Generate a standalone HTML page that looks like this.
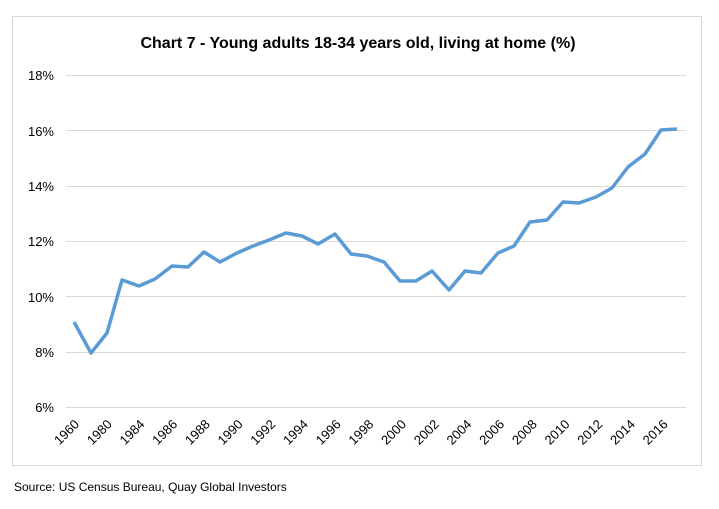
<!DOCTYPE html>
<html><head><meta charset="utf-8"><style>
body{margin:0;background:#fff;}
svg{display:block;font-family:"Liberation Sans",Arial,sans-serif;}
</style></head><body>
<svg width="719" height="509" viewBox="0 0 719 509" xmlns="http://www.w3.org/2000/svg">
<rect x="12.5" y="16.5" width="689" height="449" fill="#fff" stroke="#d9d9d9" stroke-width="1"/>
<text x="358" y="48" text-anchor="middle" font-size="16" font-weight="bold" fill="#000">Chart 7 - Young adults 18-34 years old, living at home (%)</text>
<g stroke="#d9d9d9" stroke-width="1">
<line x1="66" x2="686" y1="75.5" y2="75.5"/>
<line x1="66" x2="686" y1="130.5" y2="130.5"/>
<line x1="66" x2="686" y1="186.5" y2="186.5"/>
<line x1="66" x2="686" y1="241.5" y2="241.5"/>
<line x1="66" x2="686" y1="296.5" y2="296.5"/>
<line x1="66" x2="686" y1="352.5" y2="352.5"/>
<line x1="66" x2="686" y1="407.5" y2="407.5"/>
</g>
<g font-size="13" fill="#000" text-anchor="end">
<text x="54" y="80">18%</text>
<text x="54" y="136">16%</text>
<text x="54" y="191">14%</text>
<text x="54" y="246">12%</text>
<text x="54" y="302">10%</text>
<text x="54" y="357">8%</text>
<text x="54" y="412">6%</text>
</g>
<polyline fill="none" stroke="#5b9bd5" stroke-width="3.5" stroke-linejoin="round" points="74,322 91,353 107,333 122,280 139,286 155,279 172,266 188,267 204,252 220,262 237,253 253,246 269,240 286,233 302,236 318,244 335,234 351,254 367,256 384,262 400,281 416,281 432,271 449,290 465,271 481,273 498,253 514,246 530,222 547,220 563,202 579,203 596,197 612,188 628,167 645,154 661,130 677,129"/>
<g font-size="13" fill="#000" text-anchor="end">
<text x="80" y="425" transform="rotate(-45 80 425)">1960</text>
<text x="112.7" y="425" transform="rotate(-45 112.7 425)">1980</text>
<text x="145.4" y="425" transform="rotate(-45 145.4 425)">1984</text>
<text x="178.1" y="425" transform="rotate(-45 178.1 425)">1986</text>
<text x="210.8" y="425" transform="rotate(-45 210.8 425)">1988</text>
<text x="243.5" y="425" transform="rotate(-45 243.5 425)">1990</text>
<text x="276.2" y="425" transform="rotate(-45 276.2 425)">1992</text>
<text x="308.9" y="425" transform="rotate(-45 308.9 425)">1994</text>
<text x="341.6" y="425" transform="rotate(-45 341.6 425)">1996</text>
<text x="374.3" y="425" transform="rotate(-45 374.3 425)">1998</text>
<text x="407" y="425" transform="rotate(-45 407 425)">2000</text>
<text x="439.7" y="425" transform="rotate(-45 439.7 425)">2002</text>
<text x="472.4" y="425" transform="rotate(-45 472.4 425)">2004</text>
<text x="505.1" y="425" transform="rotate(-45 505.1 425)">2006</text>
<text x="537.8" y="425" transform="rotate(-45 537.8 425)">2008</text>
<text x="570.5" y="425" transform="rotate(-45 570.5 425)">2010</text>
<text x="603.2" y="425" transform="rotate(-45 603.2 425)">2012</text>
<text x="635.9" y="425" transform="rotate(-45 635.9 425)">2014</text>
<text x="668.6" y="425" transform="rotate(-45 668.6 425)">2016</text>
</g>
<text x="14" y="491" font-size="12" fill="#000">Source: US Census Bureau, Quay Global Investors</text>
</svg>
</body></html>
